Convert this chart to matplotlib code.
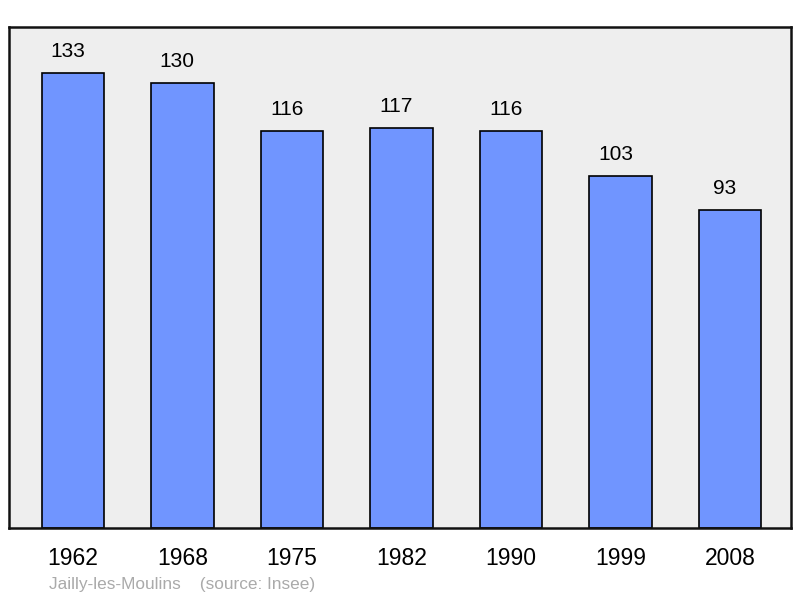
import matplotlib
matplotlib.use("Agg")
import matplotlib.pyplot as plt

years = ["1962", "1968", "1975", "1982", "1990", "1999", "2008"]
population = [133, 130, 116, 117, 116, 103, 93]
place = "Jailly-les-Moulins"
source = "(source: Insee)"

plt.rcParams['font.family'] = ['Liberation Sans', 'DejaVu Sans']

W, H = 800, 598
fig = plt.figure(figsize=(W/100, H/100), dpi=100)
ax = fig.add_axes([9/W, (H-528)/H, 782/W, 501/H])
ax.set_facecolor('#eeeeee')
x = list(range(len(years)))
ax.bar(x, population, width=0.57, color='#7095ff', edgecolor='black', linewidth=1.2, zorder=2)
ax.set_xlim(-0.585, 6.555)
ax.set_ylim(0, 146.4)
for xi, v in zip(x, population):
    ax.annotate(str(v), (xi, v), xytext=(-3.8, 8.5), textcoords='offset points',
                ha='center', va='bottom', fontsize=15, color='black')
ax.set_xticks(x)
ax.set_xticklabels(years, fontsize=16.5)
ax.tick_params(axis='x', length=0, pad=14)
ax.set_yticks([])
for s in ax.spines.values():
    s.set_linewidth(1.8)
    s.set_color('#111111')
fig.text(49/W, 1-584/H, place + "    " + source, fontsize=12.4, color='#aaaaaa',
         ha='left', va='center')
fig.savefig('out.png', dpi=100)
